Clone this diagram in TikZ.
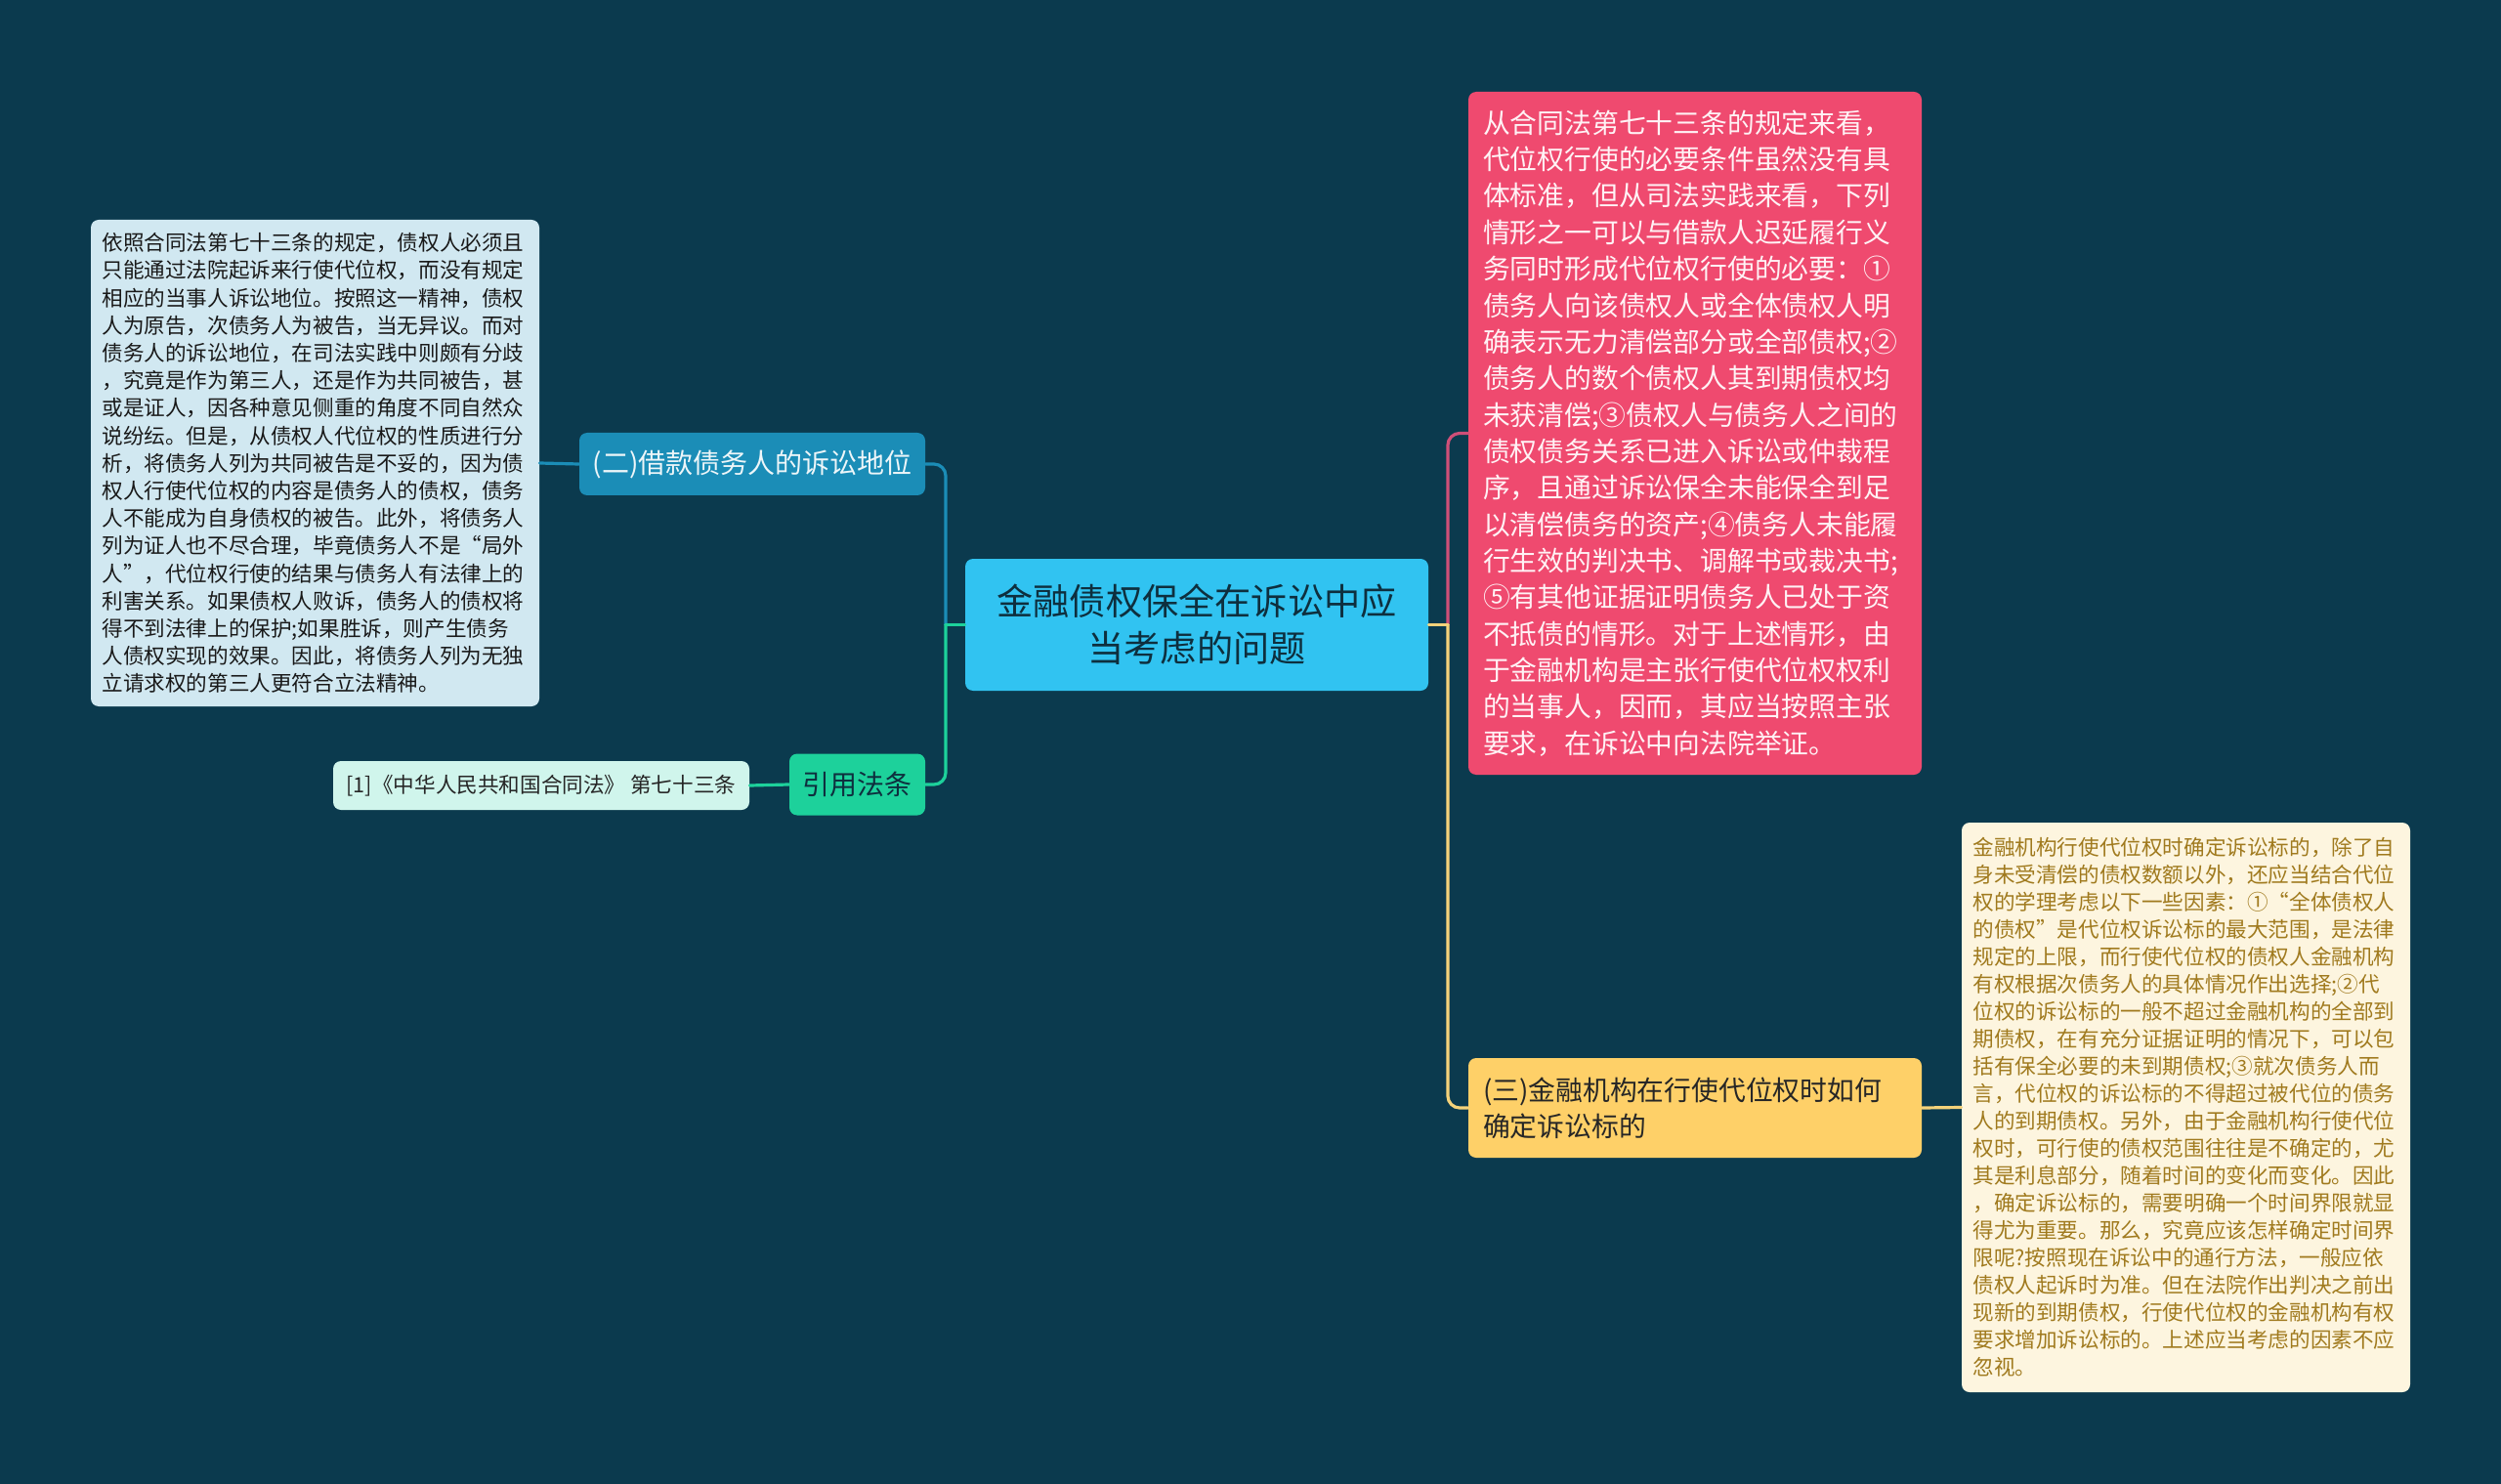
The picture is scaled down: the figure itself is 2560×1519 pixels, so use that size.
\documentclass[tikz,border=0pt]{standalone}
\usepackage{fontspec}
\setmainfont{Noto Sans CJK SC}
\definecolor{bgnavy}{HTML}{0B3A4E}
\definecolor{rootblue}{HTML}{31C3F1}
\definecolor{subblue}{HTML}{1B8DB7}
\definecolor{lawgreen}{HTML}{1DD19B}
\definecolor{mint}{HTML}{D0F5EC}
\definecolor{paleblue}{HTML}{D1E8F1}
\definecolor{rosered}{HTML}{EF4A6F}
\definecolor{rosetext}{HTML}{FFF2F5}
\definecolor{rosecurve}{HTML}{CF4F78}
\definecolor{sunyellow}{HTML}{FED068}
\definecolor{yellowcurve}{HTML}{F4D27A}
\definecolor{cream}{HTML}{FDF5DF}
\definecolor{creamtext}{HTML}{A07A1E}
\definecolor{inkdark}{HTML}{0E2F3E}
\begin{document}
\begin{tikzpicture}[x=0.5pt,y=-0.5pt,line cap=round,
  box/.style={rounded corners=4pt,inner xsep=0pt,inner ysep=0pt},
  link/.style={line width=1.6pt,rounded corners=6pt},
  bluelink/.style={link,draw=subblue},
  greenlink/.style={link,draw=lawgreen},
  roselink/.style={link,draw=rosecurve},
  yellowlink/.style={link,draw=yellowcurve}]
% background, fixes the page size
\fill[bgnavy] (0,0) rectangle (2560,1519);
% central topic
\node[box,fill=rootblue,text=inkdark,minimum width=237pt,minimum height=67.5pt,
  text width=225pt,align=center,font=\fontsize{18.6}{24}\selectfont]
  (root) at (1225,639.5) {金融债权保全在诉讼中应\\当考虑的问题};
% left branch
\node[box,fill=subblue,text=white!92!subblue,minimum width=177pt,minimum height=32pt,
  font=\fontsize{14}{18}\selectfont] (sub2) at (770,475) {(二)借款债务人的诉讼地位};
\node[box,fill=paleblue,text=black!90,minimum width=229.5pt,minimum height=249pt,
  inner xsep=5.75pt,text width=218pt,align=left,font=\fontsize{10.8}{14.1}\selectfont]
  (note2) at (322.5,474) {依照合同法第七十三条的规定，债权人必须且\\
只能通过法院起诉来行使代位权，而没有规定\\
相应的当事人诉讼地位。按照这一精神，债权\\
人为原告，次债务人为被告，当无异议。而对\\
债务人的诉讼地位，在司法实践中则颇有分歧\\
，究竟是作为第三人，还是作为共同被告，甚\\
或是证人，因各种意见侧重的角度不同自然众\\
说纷纭。但是，从债权人代位权的性质进行分\\
析，将债务人列为共同被告是不妥的，因为债\\
权人行使代位权的内容是债务人的债权，债务\\
人不能成为自身债权的被告。此外，将债务人\\
列为证人也不尽合理，毕竟债务人不是“局外\\
人”，代位权行使的结果与债务人有法律上的\\
利害关系。如果债权人败诉，债务人的债权将\\
得不到法律上的保护;如果胜诉，则产生债务\\
人债权实现的效果。因此，将债务人列为无独\\
立请求权的第三人更符合立法精神。};
\node[box,fill=lawgreen,text=inkdark,minimum width=69.5pt,minimum height=31.5pt,
  font=\fontsize{14}{18}\selectfont] (law) at (877.5,803) {引用法条};
\node[box,fill=mint,text=black!85,minimum width=213pt,minimum height=25pt,
  font=\fontsize{10.8}{14}\selectfont] (lawref) at (554,804)
  {[1]《中华人民共和国合同法》 第七十三条};
% right branch
\node[box,fill=rosered,text=rosetext,minimum width=232pt,minimum height=349.5pt,
  inner xsep=7.5pt,text width=217pt,align=left,font=\fontsize{13.9}{18.68}\selectfont]
  (note1) at (1735,443.5) {从合同法第七十三条的规定来看，\\
代位权行使的必要条件虽然没有具\\
体标准，但从司法实践来看，下列\\
情形之一可以与借款人迟延履行义\\
务同时形成代位权行使的必要：①\\
债务人向该债权人或全体债权人明\\
确表示无力清偿部分或全部债权;②\\
债务人的数个债权人其到期债权均\\
未获清偿;③债权人与债务人之间的\\
债权债务关系已进入诉讼或仲裁程\\
序，且通过诉讼保全未能保全到足\\
以清偿债务的资产;④债务人未能履\\
行生效的判决书、调解书或裁决书;\\
⑤有其他证据证明债务人已处于资\\
不抵债的情形。对于上述情形，由\\
于金融机构是主张行使代位权权利\\
的当事人，因而，其应当按照主张\\
要求，在诉讼中向法院举证。};
\node[box,fill=sunyellow,text=black!85,minimum width=232pt,minimum height=51pt,
  inner xsep=7.5pt,text width=217pt,align=left,font=\fontsize{13.9}{18.35}\selectfont]
  (sub3) at (1735,1134) {(三)金融机构在行使代位权时如何\\确定诉讼标的};
\node[box,fill=cream,text=creamtext,minimum width=229.5pt,minimum height=291.5pt,
  inner xsep=5.75pt,text width=218pt,align=left,font=\fontsize{10.8}{14.0}\selectfont]
  (note3) at (2237.5,1133.5) {金融机构行使代位权时确定诉讼标的，除了自\\
身未受清偿的债权数额以外，还应当结合代位\\
权的学理考虑以下一些因素：①“全体债权人\\
的债权”是代位权诉讼标的最大范围，是法律\\
规定的上限，而行使代位权的债权人金融机构\\
有权根据次债务人的具体情况作出选择;②代\\
位权的诉讼标的一般不超过金融机构的全部到\\
期债权，在有充分证据证明的情况下，可以包\\
括有保全必要的未到期债权;③就次债务人而\\
言，代位权的诉讼标的不得超过被代位的债务\\
人的到期债权。另外，由于金融机构行使代位\\
权时，可行使的债权范围往往是不确定的，尤\\
其是利息部分，随着时间的变化而变化。因此\\
，确定诉讼标的，需要明确一个时间界限就显\\
得尤为重要。那么，究竟应该怎样确定时间界\\
限呢?按照现在诉讼中的通行方法，一般应依\\
债权人起诉时为准。但在法院作出判决之前出\\
现新的到期债权，行使代位权的金融机构有权\\
要求增加诉讼标的。上述应当考虑的因素不应\\
忽视。};
% branch points
\coordinate (jl) at (968,639.5);
\coordinate (jr) at (1482,639.5);
% connectors, left
\draw[bluelink] (jl) |- (sub2.east);
\draw[greenlink] (jl) |- (law.east);
\draw[greenlink] (root.west) -- (jl);
\draw[bluelink] (sub2.west) -- (note2.east);
\draw[greenlink] (law.west) -- (lawref.east);
% connectors, right
\draw[roselink] (jr) |- (note1.west);
\draw[yellowlink] (jr) |- (sub3.west);
\draw[yellowlink] (root.east) -- (jr);
\draw[yellowlink] (sub3.east) -- (note3.west);
\end{tikzpicture}
\end{document}
